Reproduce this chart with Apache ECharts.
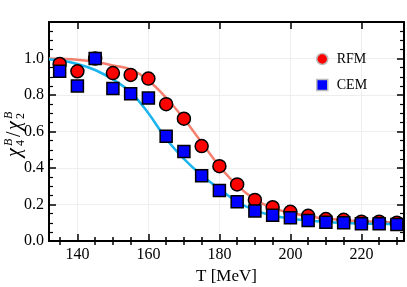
<!DOCTYPE html>
<html><head><meta charset="utf-8">
<script src="https://cdn.jsdelivr.net/npm/echarts@6/dist/echarts.min.js"></script>
<style>html,body{margin:0;padding:0;background:#fff}#c{width:407px;height:287px}</style>
</head><body><div id="c"></div>
<script>
// ---- data ----
var temps = [135,140,145,150,155,160,165,170,175,180,185,190,195,200,205,210,215,220,225,230];
var rfm = [0.97,0.93,1.0,0.92,0.91,0.89,0.75,0.67,0.52,0.41,0.31,0.225,0.185,0.16,0.138,0.12,0.116,0.106,0.106,0.10];
var cem = [0.93,0.85,1.0,0.835,0.807,0.783,0.574,0.49,0.358,0.277,0.215,0.165,0.141,0.127,0.112,0.103,0.10,0.094,0.094,0.09];
var curveT = [132,135,140,145,150,155,160,165,170,175,180,185,190,195,200,205,210,215,220,225,232];
var rfmCurve = [1.0,0.998,0.993,0.982,0.962,0.94,0.88,0.785,0.67,0.54,0.41,0.305,0.228,0.18,0.155,0.136,0.123,0.114,0.108,0.104,0.10];
var cemCurve = [0.995,0.99,0.97,0.937,0.885,0.815,0.70,0.56,0.45,0.36,0.285,0.215,0.168,0.14,0.123,0.112,0.104,0.099,0.096,0.094,0.092];
var xMajor = [140,160,180,200,220];
var xMinor = [135,145,150,155,165,170,175,185,190,195,205,210,215,225,230];

function pairs(xs, ys){ return xs.map(function(x,i){ return [x, ys[i]]; }); }

var FONT = '"Liberation Serif", "DejaVu Serif", serif';
var chart = echarts.init(document.getElementById('c'), null, {renderer:'canvas'});
var axLine = {show:true, onZero:false, lineStyle:{color:'#000', width:2}};
function xAx(pos, ticks, len, main, label){
  return {
    type:'value', position:pos, min:132, max:232,
    axisLine: main ? axLine : {show:false},
    axisTick:{show:true, inside:true, length:len, customValues:ticks, lineStyle:{color:'#000', width:1.5}},
    axisLabel: label ? {show:true, customValues:xMajor, color:'#000', fontFamily:FONT, fontSize:16, margin:6} : {show:false},
    splitLine: (label ? {show:true, lineStyle:{color:'#eeeeee', width:1}} : {show:false}),
    name: label ? 'T [MeV]' : '', nameLocation:'middle', nameGap:27,
    nameTextStyle:{color:'#000', fontFamily:FONT, fontSize:17}
  };
}
function yAx(pos, label){
  return {
    type:'value', position:pos, min:0, max:1.2, interval:0.2,
    axisLine: axLine,
    axisTick:{show:true, inside:true, length:7, lineStyle:{color:'#000', width:1.5}},
    minorTick:{show:true, splitNumber:4, length:4, lineStyle:{color:'#000', width:1.2}},
    axisLabel: label ? {show:true, color:'#000', fontFamily:FONT, fontSize:16, margin:5, showMaxLabel:false,
      formatter:function(v){ return v.toFixed(1); }} : {show:false},
    splitLine: label ? {show:true, lineStyle:{color:'#eeeeee', width:1}} : {show:false}
  };
}

var option = {
  animation:false,
  backgroundColor:'#fff',
  grid:{left:49, right:3, top:22, bottom:46, containLabel:false, outerBoundsMode:'none'},
  xAxis:[xAx('bottom', xMajor, 7, true, true), xAx('bottom', xMinor, 4, false, false),
         xAx('top', xMajor, 7, true, false), xAx('top', xMinor, 4, false, false)],
  yAxis:[yAx('left', true), yAx('right', false)],
  legend:{
    orient:'vertical', left:311, top:47, itemWidth:11, itemHeight:11, itemGap:12,
    textStyle:{fontFamily:FONT, fontSize:14, color:'#000', padding:[0,0,0,4]},
    data:[
      {name:'RFM', icon:'circle', itemStyle:{color:'#ff0000', borderColor:'#bbbbbb', borderWidth:1.5}},
      {name:'CEM', icon:'rect', itemStyle:{color:'#0000ff', borderColor:'#bbbbbb', borderWidth:1.5}}
    ]
  },
  graphic:[{
    type:'group', x:15, y:157, rotation:Math.PI/2,
    children:[
      {type:'text', x:0, y:0, style:{text:'χ', font:'italic 20px '+FONT, fill:'#000', verticalAlign:'middle'}},
      {type:'text', x:11, y:-6, style:{text:'B', font:'italic 12px '+FONT, fill:'#000', verticalAlign:'middle'}},
      {type:'text', x:11, y:6, style:{text:'4', font:'12px '+FONT, fill:'#000', verticalAlign:'middle'}},
      {type:'text', x:20, y:0, style:{text:'/', font:'20px '+FONT, fill:'#000', verticalAlign:'middle'}},
      {type:'text', x:27, y:0, style:{text:'χ', font:'italic 20px '+FONT, fill:'#000', verticalAlign:'middle'}},
      {type:'text', x:38, y:-6, style:{text:'B', font:'italic 12px '+FONT, fill:'#000', verticalAlign:'middle'}},
      {type:'text', x:38, y:6, style:{text:'2', font:'12px '+FONT, fill:'#000', verticalAlign:'middle'}}
    ]
  }],
  series:[
    {type:'line', name:'rfmfit', data:pairs(curveT, rfmCurve), smooth:0.4, showSymbol:false, silent:true,
      lineStyle:{color:'#f47f6e', width:2.5}, z:2},
    {type:'line', name:'cemfit', data:pairs(curveT, cemCurve), smooth:0.4, showSymbol:false, silent:true,
      lineStyle:{color:'#1ab4ee', width:2.5}, z:2},
    {type:'scatter', name:'RFM', data:pairs(temps, rfm), symbol:'circle', symbolSize:13,
      itemStyle:{color:'#ff0000', borderColor:'#000', borderWidth:1.5, opacity:1}, z:3},
    {type:'scatter', name:'CEM', data:pairs(temps, cem), symbol:'rect', symbolSize:12,
      itemStyle:{color:'#0000ff', borderColor:'#000', borderWidth:1.5, opacity:1}, z:4}
  ]
};
chart.setOption(option);
</script></body></html>
